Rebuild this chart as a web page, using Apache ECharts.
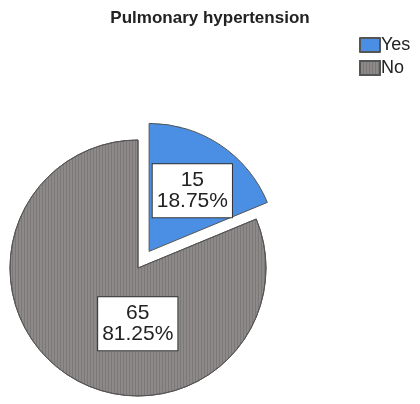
<!DOCTYPE html>
<html>
<head>
<meta charset="utf-8">
<script src="https://cdn.jsdelivr.net/npm/echarts@6/dist/echarts.min.js"></script>
<style>html,body{margin:0;padding:0;background:#fff;}#c{width:420px;height:404px;}</style>
</head>
<body>
<div id="c"></div>
<script>
const titleText = 'Pulmonary hypertension';
const categories = ['Yes', 'No'];
const counts = [15, 65];
const colors = ['#4a8fe3', '#8e8989'];

const chart = echarts.init(document.getElementById('c'), null, {renderer: 'canvas'});
const labelShift = [[6, -5], [37, 0]];
const data = categories.map((name, i) => ({
  name: name,
  value: counts[i],
  selected: i === 0,
  itemStyle: i === 1 ? {
    color: colors[i],
    decal: {symbol: 'rect', symbolSize: 1, dashArrayX: [1, 2], dashArrayY: [10, 0], color: 'rgba(60,60,60,0.22)'}
  } : {color: colors[i]}
}));

chart.setOption({
  animation: false,
  title: {
    text: titleText, left: 'center', top: 5,
    textStyle: {fontFamily: 'Liberation Sans', fontSize: 17, fontWeight: 'bold', color: '#222'}
  },
  legend: {
    orient: 'vertical', left: 359, top: 36, itemWidth: 20, itemHeight: 14, itemGap: 5, padding: 0,
    icon: 'rect', selectedMode: false,
    textStyle: {fontFamily: 'Liberation Sans', fontSize: 18, color: '#222', padding: [0, 0, 0, -4]},
    data: categories
  },
  series: [{
    type: 'pie',
    center: [138, 268],
    radius: 128,
    startAngle: 90,
    clockwise: true,
    selectedMode: 'single',
    selectedOffset: 20,
    emphasis: {disabled: true},
    itemStyle: {borderColor: '#555', borderWidth: 1},
    label: {
      position: 'inside',
      formatter: '{c}\n{d}%',
      fontFamily: 'Liberation Sans', fontSize: 21, lineHeight: 21, color: '#222',
      backgroundColor: '#fff', borderColor: '#333', borderWidth: 1, padding: [6, 4, 5, 4]
    },
    labelLayout: function (p) {
      const s = labelShift[p.dataIndex];
      return {dx: s[0], dy: s[1]};
    },
    labelLine: {show: false},
    data: data
  }]
});
</script>
</body>
</html>
